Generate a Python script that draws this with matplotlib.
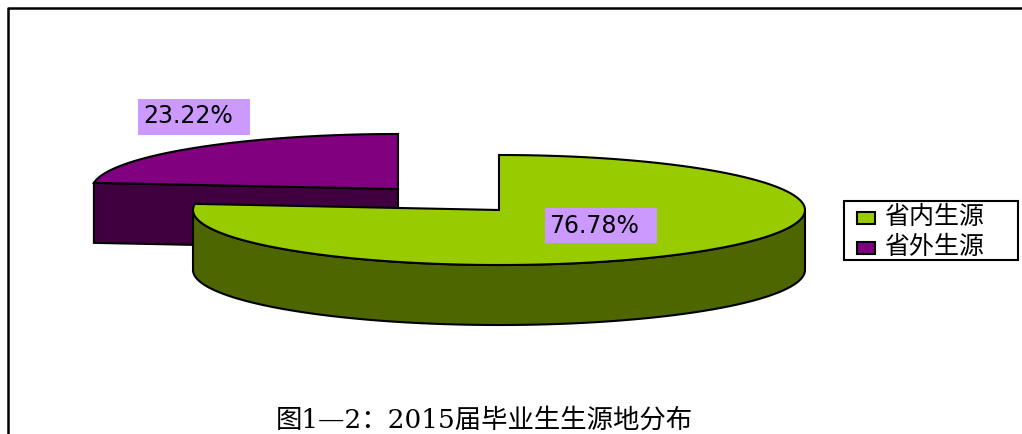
import numpy as np
import matplotlib
matplotlib.use('Agg')
import matplotlib.pyplot as plt
from matplotlib.patches import Polygon, Rectangle

plt.rcParams['font.family'] = ['Noto Sans CJK SC', 'DejaVu Sans']

labels = ['省内生源', '省外生源']
shares = [76.78, 23.22]
share_labels = ['76.78%', '23.22%']
top_colors = ['#99cc00', '#800080']
side_colors = ['#4d6600', '#400040']
title = '图1—2：2015届毕业生生源地分布'

RX, RY, DEPTH = 306, 55, 60
centers = [(499, 210), (398, 189)]


def arc(cx, cy, a0, a1):
    # angles in degrees, 0 = right, going anticlockwise on screen
    t = np.radians(np.linspace(a0, a1, 300))
    return np.column_stack([cx + RX * np.cos(t), cy - RY * np.sin(t)])


fig = plt.figure(figsize=(10.22, 4.34), dpi=100)
ax = fig.add_axes([0, 0, 1, 1])
ax.set_xlim(0, 1022)
ax.set_ylim(434, 0)
ax.axis('off')

# frame of the chart, cut off by the bottom of the image
ax.plot([8, 8, 1022], [434, 8, 8], color='black', lw=1.8)

# slices run from 12 o'clock, the first one clockwise
sweep0 = shares[0] / 100 * 360
sweep1 = shares[1] / 100 * 360

# purple slice is behind, its cut face shows
cx, cy = centers[1]
top = arc(cx, cy, 90, 90 + sweep1)
corner = top[-1]
face = [(cx, cy), corner, corner + [0, DEPTH], (cx, cy + DEPTH)]
ax.add_patch(Polygon(face, fc=side_colors[1], ec='black', lw=1.5))
ax.add_patch(Polygon(np.vstack([[cx, cy], top]), fc=top_colors[1], ec='black', lw=1.5))

# green slice, rim is only the part facing the viewer
cx, cy = centers[0]
top = arc(cx, cy, 90 - sweep0, 90)
rim = arc(cx, cy, -180, 0)
wall = np.vstack([rim, rim[::-1] + [0, DEPTH]])
ax.add_patch(Polygon(wall, fc=side_colors[0], ec='black', lw=1.5))
ax.add_patch(Polygon(np.vstack([[cx, cy], top]), fc=top_colors[0], ec='black', lw=1.5))

# value labels
ax.add_patch(Rectangle((545, 208), 112, 35, fc='#cc99ff', ec='none'))
ax.text(549, 226, share_labels[0], fontsize=17, va='center', family=['DejaVu Sans'])
ax.add_patch(Rectangle((138, 99), 112, 36, fc='#cc99ff', ec='none'))
ax.text(143, 116, share_labels[1], fontsize=17, va='center', family=['DejaVu Sans'])

# legend
ax.add_patch(Rectangle((844, 201), 174, 59, fc='white', ec='black', lw=1.5))
for i, y in enumerate([218, 248]):
    ax.add_patch(Rectangle((857, y - 6), 18, 12, fc=top_colors[i], ec='black', lw=1.5))
    ax.text(884, y - 1, labels[i], fontsize=18, va='center')

ax.text(484, 420, title, fontsize=19, ha='center', va='center',
        family=['DejaVu Serif', 'Noto Sans CJK SC'])

fig.savefig('out.png', dpi=100)
